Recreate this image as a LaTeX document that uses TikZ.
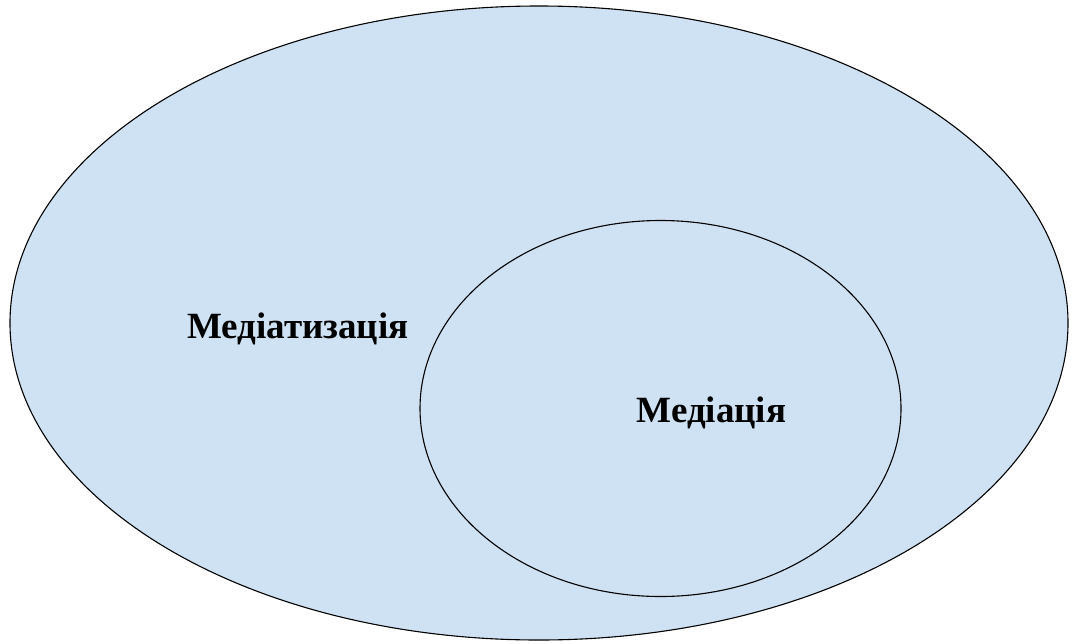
\documentclass[tikz,border=0pt]{standalone}
\usepackage{fontspec}
\setmainfont{Liberation Serif}
\definecolor{venn}{HTML}{CFE2F3}
\begin{document}
\begin{tikzpicture}[x=1pt,y=-1pt,
  setshape/.style={draw=black,fill=venn,line width=1.1pt},
  setlabel/.style={font=\fontsize{37}{44}\selectfont\bfseries,inner sep=0pt,anchor=base west}]
\useasboundingbox (0,0) rectangle (1076,643);
\draw[setshape] (539,323) ellipse [x radius=529, y radius=317];
\draw[setshape] (660.5,408.5) ellipse [x radius=240.5, y radius=188];
\node[setlabel] (outer) at (187,338) {Медіатизація};
\node[setlabel] (inner) at (636.5,422.5) {Медіація};
\end{tikzpicture}
\end{document}
